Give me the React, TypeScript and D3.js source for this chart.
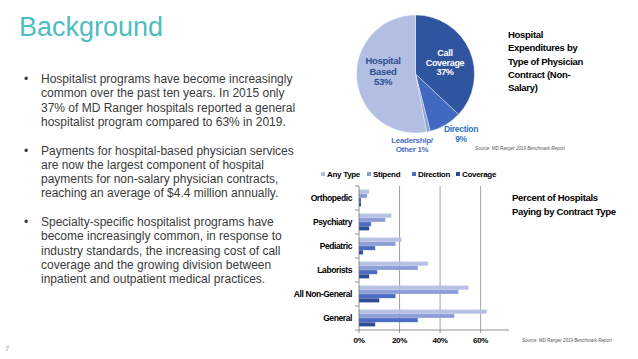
import React from "react";
import * as d3 from "d3";

// pie: hospital expenditures by contract type
const pieLabels = ["Call Coverage", "Direction", "Leadership/ Other", "Hospital Based"];
const pieValues = [37, 9, 1, 53];
const pieColors = ["#30559f", "#4169bf", "#8c9fd6", "#b3bee3"];

// bars: percent of hospitals paying by contract type
const categories = ["Orthopedic", "Psychiatry", "Pediatric", "Laborists", "All Non-General", "General"];
const seriesNames = ["Any Type", "Stipend", "Direction", "Coverage"];
const anyType = [5, 16, 21, 34, 54, 63];
const stipend = [4, 13, 18, 29, 49, 47];
const direction = [1, 6, 8, 9, 18, 29];
const coverage = [1, 5, 2, 5, 10, 8];
const barColors = ["#b7c0e4", "#8d9fd7", "#4a6cc2", "#2f4d92"];
const xTicks = [0, 20, 40, 60];

const bullets = [
  [
    "Hospitalist programs have become increasingly",
    "common over the past ten years.  In 2015 only",
    "37% of MD Ranger hospitals reported a general",
    "hospitalist program compared to 63% in 2019.",
  ],
  [
    "Payments for hospital-based physician services",
    "are now the largest component of hospital",
    "payments for non-salary physician contracts,",
    "reaching an average of $4.4 million annually.",
  ],
  [
    "Specialty-specific hospitalist programs have",
    "become increasingly common, in response to",
    "industry standards, the increasing cost of call",
    "coverage and the growing division between",
    "inpatient and outpatient medical practices.",
  ],
];

const W = 638;
const H = 359;
const bold = { fontFamily: "Liberation Sans, Arial, sans-serif", fontWeight: 700 } as const;

export default function App() {
  // pie
  const cx = 415.5, cy = 74, r = 59;
  const arcs = d3.pie<number>().sort(null).value((d) => d)(pieValues);
  const arc = d3.arc<d3.PieArcDatum<number>>().innerRadius(0).outerRadius(r);

  // bars
  const series = [anyType, stipend, direction, coverage];
  const x = d3.scaleLinear().domain([0, 74]).range([359, 509]);
  const y0 = d3.scaleBand<string>().domain(categories).range([186, 330]).paddingInner(0.3).paddingOuter(0.15);
  const y1 = d3.scaleBand<string>().domain(seriesNames).range([0, y0.bandwidth()]).paddingInner(0.05);
  const step = y0.step();

  let lineY = 79;
  const bulletLines: { t: string; y: number; first: boolean }[] = [];
  bullets.forEach((p) => {
    p.forEach((t, i) => {
      bulletLines.push({ t, y: lineY, first: i === 0 });
      lineY += 14.3;
    });
    lineY += 14.3;
  });

  return (
    <svg width={W} height={H} style={{ position: "absolute", left: 0, top: 0, background: "#fff" }}>
      <text x={19} y={36} fontSize={27} fill="#4dbdc0" fontFamily="Liberation Sans, Arial, sans-serif">
        Background
      </text>
      {bulletLines.map((l, i) => (
        <g key={i} fontFamily="Liberation Sans, Arial, sans-serif" fontSize={12} fill="#3a3a3a">
          {l.first && <text x={24} y={l.y + 4}>•</text>}
          <text x={41} y={l.y + 4}>{l.t}</text>
        </g>
      ))}
      <text x={5} y={351} fontSize={8} fill="#999" fontFamily="Liberation Sans, Arial, sans-serif">7</text>

      {/* pie */}
      <g transform={`translate(${cx},${cy})`}>
        {arcs.map((a, i) => (
          <path key={i} d={arc(a) || ""} fill={pieColors[i]} stroke="#fff" strokeWidth={0.4} />
        ))}
      </g>
      <text x={445} y={56} fontSize={9} fill="#fff" textAnchor="middle" {...bold} letterSpacing={-0.3}>
        <tspan x={445}>Call</tspan>
        <tspan x={445} dy={9.5}>Coverage</tspan>
        <tspan x={445} dy={9.5}>37%</tspan>
      </text>
      <text x={383} y={64} fontSize={9.5} fill="#2f4f8f" textAnchor="middle" {...bold} letterSpacing={-0.3}>
        <tspan x={383}>Hospital</tspan>
        <tspan x={383} dy={10.5}>Based</tspan>
        <tspan x={383} dy={10.5}>53%</tspan>
      </text>
      <text x={461} y={132} fontSize={8.5} fill="#2e73c4" textAnchor="middle" {...bold} letterSpacing={-0.3}>
        <tspan x={461}>Direction</tspan>
        <tspan x={461} dy={10}>9%</tspan>
      </text>
      <text x={412} y={143} fontSize={8} fill="#4a72c2" textAnchor="middle" {...bold} letterSpacing={-0.3}>
        <tspan x={412}>Leadership/</tspan>
        <tspan x={412} dy={9}>Other 1%</tspan>
      </text>
      <text x={508} y={38} fontSize={9.5} fill="#000" {...bold} letterSpacing={-0.3}>
        {["Hospital", "Expenditures by", "Type of Physician", "Contract (Non-", "Salary)"].map((t, i) => (
          <tspan key={i} x={508} dy={i === 0 ? 0 : 13.3}>{t}</tspan>
        ))}
      </text>
      <text x={475} y={150} fontSize={4.5} fill="#555" fontStyle="italic" fontFamily="Liberation Sans, Arial, sans-serif">
        Source: MD Ranger 2019 Benchmark Report
      </text>

      {/* bar legend */}
      {seriesNames.map((s, i) => {
        const lx = [321, 367, 412, 456][i];
        return (
          <g key={s}>
            <rect x={lx} y={172} width={4} height={4} fill={barColors[i]} />
            <text x={lx + 6} y={177} fontSize={8} {...bold} letterSpacing={-0.3}>{s}</text>
          </g>
        );
      })}

      {/* gridlines */}
      {xTicks.filter((t) => t > 0).map((t) => (
        <line key={t} x1={x(t)} x2={x(t)} y1={186} y2={330} stroke="#8a8a8a" strokeWidth={0.8} />
      ))}

      {/* bars */}
      {categories.map((c, ci) => (
        <g key={c}>
          {series.map((vals, si) => (
            <rect
              key={si}
              x={x(0)}
              y={(y0(c) || 0) + (y1(seriesNames[si]) || 0)}
              width={x(vals[ci]) - x(0)}
              height={y1.bandwidth()}
              fill={barColors[si]}
            />
          ))}
          <text
            x={352}
            y={(y0(c) || 0) + y0.bandwidth() / 2 + 3}
            fontSize={8.5}
            textAnchor="end"
            {...bold}
            letterSpacing={-0.4}
          >
            {c}
          </text>
        </g>
      ))}

      {/* axes */}
      <line x1={359} x2={359} y1={186} y2={330} stroke="#777" strokeWidth={0.8} />
      <line x1={359} x2={509} y1={330} y2={330} stroke="#777" strokeWidth={0.8} />
      {d3.range(categories.length + 1).map((i) => (
        <line key={i} x1={355} x2={359} y1={186 + i * step} y2={186 + i * step} stroke="#777" strokeWidth={0.8} />
      ))}
      {xTicks.map((t) => (
        <g key={t}>
          <line x1={x(t)} x2={x(t)} y1={330} y2={333} stroke="#777" strokeWidth={0.8} />
          <text x={x(t)} y={343} fontSize={8} textAnchor="middle" {...bold} letterSpacing={-0.3}>{`${t}%`}</text>
        </g>
      ))}

      <text x={512} y={201} fontSize={9.5} {...bold} letterSpacing={-0.3}>
        <tspan x={512}>Percent of Hospitals</tspan>
        <tspan x={512} dy={14}>Paying by Contract Type</tspan>
      </text>
      <text x={522} y={342} fontSize={4.5} fill="#555" fontStyle="italic" fontFamily="Liberation Sans, Arial, sans-serif">
        Source: MD Ranger 2019 Benchmark Report
      </text>
    </svg>
  );
}
